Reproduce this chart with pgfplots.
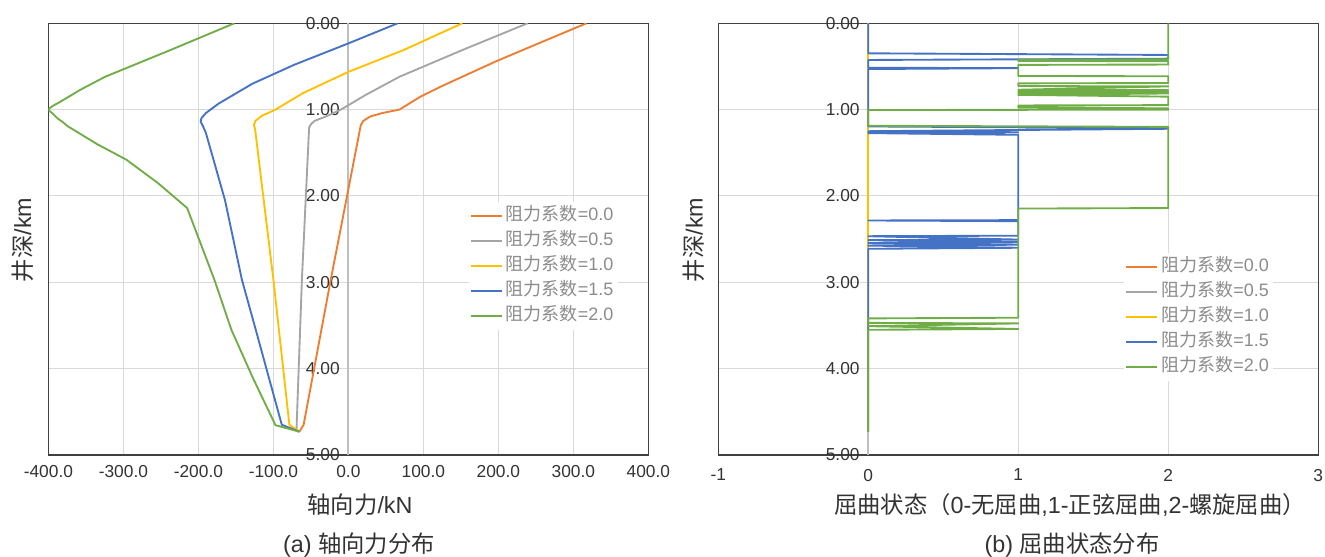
\documentclass[border=0pt]{standalone}
\usepackage{fontspec}
\setmainfont{Liberation Sans}
\newfontfamily\cjk{Noto Sans CJK SC}
\usepackage{pgfplots}
\pgfplotsset{compat=1.18}

\definecolor{cA}{HTML}{ED7D31}
\definecolor{cB}{HTML}{A5A5A5}
\definecolor{cC}{HTML}{FFC000}
\definecolor{cD}{HTML}{4472C4}
\definecolor{cE}{HTML}{70AD47}
\definecolor{gridc}{HTML}{D9D9D9}
\definecolor{axc}{HTML}{BFBFBF}
\definecolor{txt}{HTML}{333333}
\definecolor{legtxt}{HTML}{8C8C8C}
\definecolor{frm}{HTML}{404040}

\pgfplotsset{
  panel/.style={
    scale only axis, width=450pt, height=323.8pt,
    y dir=reverse, ymin=0, ymax=5, ytick={0,1,...,5},
    grid=major, major grid style={gridc, line width=0.8pt},
    axis line style={frm, line width=1pt},
    major tick length=0pt,
    tick label style={font=\fontsize{13}{15}\selectfont, text=txt},
    extra x ticks={0}, extra x tick labels={},
    extra x tick style={grid=major, major grid style={axc, line width=1.5pt}},
    legend style={draw=none, fill=white, font=\fontsize{13.5}{15}\selectfont,
      text=legtxt, inner sep=1pt, row sep=0pt,
      nodes={inner ysep=0pt, inner xsep=2.4pt, text height=12.5pt, text depth=6.25pt}},
    legend cell align=left,
    legend image code/.code={\draw[#1,line width=1.5pt] (0pt,0pt) -- (23pt,0pt);},
    every axis plot/.append style={line width=1.4pt, line join=round, no markers},
  }
}

\begin{document}
\begin{tikzpicture}
\useasboundingbox (0,0) rectangle (993.75pt,417.75pt);

% (a) axial force
\begin{axis}[panel, at={(36.3pt,400.3pt)}, anchor=north west,
  xmin=-400, xmax=400, xtick={-400,-300,...,400},
  xticklabel style={yshift=-4.5pt, /pgf/number format/.cd, fixed, fixed zerofill, precision=1, assume math mode=true},
  yticklabel style={xshift=222pt, /pgf/number format/.cd, fixed, fixed zerofill, precision=2, assume math mode=true},
  legend style={at={(0.700,0.586)}, anchor=north west}]
\addplot[cA] coordinates {(317.5,0) (257,0.22) (197,0.44) (124,0.73) (96,0.85) (68,1.00)
  (45,1.04) (29,1.08) (20,1.13) (16.5,1.18) (-1.8,2.00) (-24.4,3.01) (-59.7,4.65) (-65.3,4.73)};
\addlegendentry{{\cjk 阻力系数}=0.0}
\addplot[cB] coordinates {(239,0) (152,0.31) (68,0.62) (23,0.83) (-10,1.00) (-30,1.08)
  (-45,1.13) (-50,1.17) (-52.4,1.21) (-62,2.97) (-69.2,4.71) (-65.3,4.73)};
\addlegendentry{{\cjk 阻力系数}=0.5}
\addplot[cC] coordinates {(152,0) (73.6,0.31) (0.8,0.56) (-60.8,0.81) (-97.2,1.00) (-115,1.07)
  (-124,1.13) (-126,1.18) (-124.5,1.22) (-100,2.97) (-78.7,4.65) (-65.3,4.73)};
\addlegendentry{{\cjk 阻力系数}=1.0}
\addplot[cD] coordinates {(65.8,0) (0.8,0.23) (-72,0.48) (-128,0.70) (-173,0.93) (-190,1.04)
  (-196,1.10) (-197,1.14) (-194,1.19) (-190,1.27) (-164.5,2.05) (-142,2.97) (-123.5,3.55)
  (-88.8,4.65) (-65.3,4.73)};
\addlegendentry{{\cjk 阻力系数}=1.5}
\addplot[cE] coordinates {(-152,0) (-237,0.309) (-324,0.618) (-358,0.773) (-380,0.888)
  (-394,0.957) (-401,1.00) (-395,1.04) (-388,1.10) (-380,1.15) (-374.7,1.19) (-335,1.40)
  (-296,1.58) (-254,1.85) (-215,2.14) (-178.5,2.975) (-156,3.55) (-128,4.095) (-97.2,4.655)
  (-65.3,4.73)};
\addlegendentry{{\cjk 阻力系数}=2.0}
\end{axis}

% (b) buckling state
\begin{axis}[panel, at={(538.7pt,400.3pt)}, anchor=north west,
  xmin=-1, xmax=3, xtick={-1,0,1,2,3},
  xticklabel style={yshift=-7pt, /pgf/number format/assume math mode=true},
  yticklabel style={xshift=109.5pt, /pgf/number format/.cd, fixed, fixed zerofill, precision=2, assume math mode=true},
  legend style={at={(0.676,0.468)}, anchor=north west}]
\addplot[cA] coordinates {(0,0) (0,4.73)};
\addlegendentry{{\cjk 阻力系数}=0.0}
\addplot[cB] coordinates {(0,0) (0,4.73)};
\addlegendentry{{\cjk 阻力系数}=0.5}
\addplot[cC] coordinates {(0,0) (0,4.73)};
\addlegendentry{{\cjk 阻力系数}=1.0}
\addplot[cD] coordinates {(0,0) (0,0.348) (2,0.367) (2,0.410) (0,0.425) (0,0.515) (1,0.520)
  (0,0.530) (0,1.195) (2,1.215) (2,1.222) (0,1.250) (1,1.262) (0,1.272) (1,1.292) (1,2.280)
  (0,2.284) (1,2.292) (1,2.460) (0,2.466) (1,2.505) (0,2.512) (1,2.535) (0,2.545) (1,2.565)
  (0,2.575) (1,2.600) (0,2.612) (0,4.73)};
\addlegendentry{{\cjk 阻力系数}=1.5}
\addplot[cE] coordinates {(2,0) (2,0.418) (1,0.422) (1,0.436) (2,0.440) (2,0.478) (1,0.482)
  (1,0.610) (2,0.614) (2,0.692) (1,0.696) (1,0.727) (2,0.731) (1,0.770) (2,0.775) (1,0.790)
  (2,0.795) (1,0.809) (2,0.813) (1,0.829) (2,0.850) (2,0.948) (1,0.952) (1,0.975) (2,0.985)
  (2,1.000) (0,1.005) (0,1.187) (2,1.200) (2,2.140) (1,2.146) (1,3.410) (0,3.418) (0,3.470)
  (1,3.476) (0,3.508) (1,3.540) (0,3.550) (0,4.73)};
\addlegendentry{{\cjk 阻力系数}=2.0}
\end{axis}

\begin{scope}[every node/.style={text=txt, font=\fontsize{17.5}{20}\selectfont}]
\node at (270pt,39pt) {{\cjk 轴向力}/kN};
\node at (269.25pt,9pt) {(a) {\cjk 轴向力分布}};
\node[rotate=90] at (16.9pt,237.75pt) {{\cjk 井深}/km};
\node at (802.5pt,39pt) {{\cjk 屈曲状态（}0-{\cjk 无屈曲},1-{\cjk 正弦屈曲},2-{\cjk 螺旋屈曲）}};
\node at (804pt,9pt) {(b) {\cjk 屈曲状态分布}};
\node[rotate=90] at (520.5pt,237.75pt) {{\cjk 井深}/km};
\end{scope}
\end{tikzpicture}
\end{document}
